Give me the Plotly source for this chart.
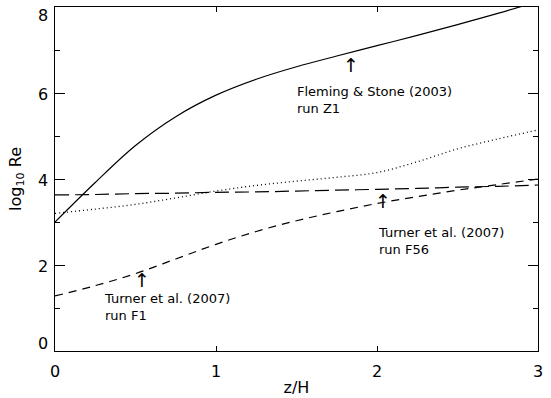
import plotly.graph_objects as go

z = [0.0, 0.25, 0.5, 0.75, 1.0, 1.25, 1.5, 1.75, 2.0, 2.25, 2.5, 2.75, 3.0]
z1_fleming = [3.0, 3.92, 4.78, 5.45, 5.95, 6.32, 6.61, 6.86, 7.10, 7.34, 7.59, 7.85, 8.13]
dotted = [3.20, 3.30, 3.41, 3.56, 3.72, 3.85, 3.95, 4.04, 4.15, 4.40, 4.70, 4.93, 5.14]
f56 = [3.63, 3.64, 3.66, 3.67, 3.69, 3.70, 3.72, 3.74, 3.76, 3.78, 3.81, 3.83, 3.86]
f1 = [1.28, 1.52, 1.80, 2.14, 2.48, 2.78, 3.03, 3.24, 3.43, 3.59, 3.74, 3.87, 4.00]

x_ticks = [0, 1, 2, 3]
y_ticks = [0, 2, 4, 6, 8]
y_tick_labels = ["0", "2", "4", "6", "8"]

labels = ["Fleming & Stone (2003)<br>run Z1", "Turner et al. (2007)<br>run F1", "Turner et al. (2007)<br>run F56"]
label_x = [1.49, 0.292, 1.994]
label_y = [6.26, 1.44, 2.98]
arrow_x = [1.84, 0.54, 2.035]
arrow_y = [6.64, 1.66, 3.49]

fig = go.Figure()
fig.add_trace(go.Scatter(x=z, y=z1_fleming, mode="lines", line=dict(color="black", width=1.2, shape="spline")))
fig.add_trace(go.Scatter(x=z, y=dotted, mode="lines", line=dict(color="black", width=1.3, dash="1px,3px", shape="spline")))
fig.add_trace(go.Scatter(x=z, y=f56, mode="lines", line=dict(color="black", width=1.2, dash="14px,6px", shape="spline")))
fig.add_trace(go.Scatter(x=z, y=f1, mode="lines", line=dict(color="black", width=1.2, dash="8px,6px", shape="spline")))

fam = "DejaVu Sans"
txtfont = dict(family=fam, size=13, color="black")
for t, lx, ly in zip(labels, label_x, label_y):
    fig.add_annotation(x=lx, y=ly, xref="x", yref="y", text=t,
                       showarrow=False, xanchor="left", yanchor="top", align="left", font=txtfont)
for ax_, ay_ in zip(arrow_x, arrow_y):
    fig.add_annotation(x=ax_, y=ay_, xref="x", yref="y", text="↑", showarrow=False,
                       xanchor="center", yanchor="middle", font=dict(family=fam, size=19, color="black"))

# y tick labels: end labels kept inside the frame (as in the original), others centred
for i, (v, t) in enumerate(zip(y_ticks, y_tick_labels)):
    if i == 0:
        anc, ys = "bottom", -4
    elif i == len(y_ticks) - 1:
        anc, ys = "top", 3
    else:
        anc, ys = "middle", -1
    fig.add_annotation(x=0, y=v, xref="paper", yref="y", text=t, showarrow=False,
                       xanchor="right", yanchor=anc, xshift=-5, yshift=ys,
                       font=dict(family=fam, size=16, color="black"))

fig.update_layout(
    width=551, height=398,
    margin=dict(l=55, r=13, t=7, b=47),
    plot_bgcolor="white", paper_bgcolor="white",
    showlegend=False,
    font=dict(family=fam, color="black"),
)
fig.update_xaxes(range=[0, 3], tickvals=x_ticks, ticks="inside", ticklen=5, tickcolor="black",
                 showline=True, linecolor="black", linewidth=1, mirror="ticks", showgrid=False, zeroline=False,
                 automargin=False, ticklabelstandoff=6, ticklabeloverflow="allow",
                 tickfont=dict(size=16, family=fam),
                 title=dict(text="z/H", font=dict(size=16, family=fam), standoff=1))
fig.update_yaxes(range=[0, 8], tickvals=y_ticks, ticks="inside", ticklen=10, tickcolor="black",
                 showline=True, linecolor="black", linewidth=1, mirror="ticks", showgrid=False, zeroline=False,
                 automargin=False, showticklabels=False,
                 minor=dict(tickvals=[1, 3, 5, 7], ticks="inside", ticklen=5, tickcolor="black"),
                 title=dict(text="log<sub>10</sub> Re", font=dict(size=16, family=fam), standoff=28))

fig.write_html("out.html")
